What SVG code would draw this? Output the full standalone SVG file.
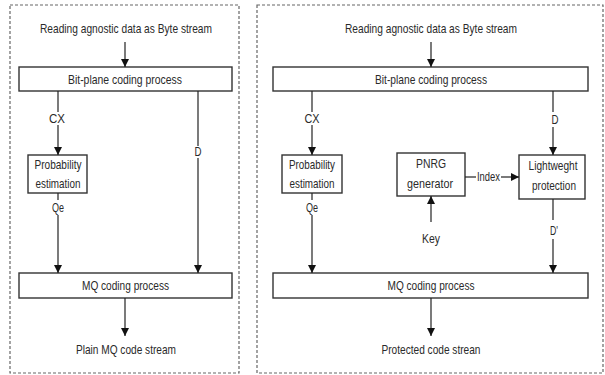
<svg xmlns="http://www.w3.org/2000/svg" width="605" height="375" viewBox="0 0 605 375">
  <style>
    .panel { fill: none; stroke: #666; stroke-width: 1.2; stroke-dasharray: 3 2; }
    .box { fill: #fff; stroke: #333; stroke-width: 1.4; }
    .wire { fill: none; stroke: #222; stroke-width: 1.2; }
    text { font-family: "Liberation Sans", Arial, sans-serif; font-size: 13.5px; fill: #2a2a2a; text-anchor: middle; }
  </style>
  <defs>
    <marker id="arrow" viewBox="0 0 8 8" refX="8" refY="4" markerWidth="8" markerHeight="8" markerUnits="userSpaceOnUse" orient="auto">
      <path d="M0,0 L8,4 L0,8 z" fill="#111"/>
    </marker>
  </defs>

  <rect width="605" height="375" fill="#fff"/>

  <!-- panel frames -->
  <rect class="panel" x="10" y="5" width="229" height="368"/>
  <rect class="panel" x="257" y="5" width="346" height="368"/>

  <!-- plain pipeline -->
  <g id="left-input"><text x="126" y="33" textLength="172" lengthAdjust="spacingAndGlyphs">Reading agnostic data as Byte stream</text></g>
  <g id="left-bitplane">
    <rect class="box" x="19" y="67" width="213" height="24"/>
    <text x="125" y="83.5" textLength="114" lengthAdjust="spacingAndGlyphs">Bit-plane coding process</text>
  </g>
  <g id="left-probability">
    <rect class="box" x="28" y="155" width="59" height="38"/>
    <text x="58" y="169" textLength="47" lengthAdjust="spacingAndGlyphs">Probability</text>
    <text x="58" y="188" textLength="45" lengthAdjust="spacingAndGlyphs">estimation</text>
  </g>
  <g id="left-mq">
    <rect class="box" x="19" y="273" width="213" height="25"/>
    <text x="125.5" y="290" textLength="87" lengthAdjust="spacingAndGlyphs">MQ coding process</text>
  </g>
  <g id="left-output"><text x="126" y="354" textLength="100" lengthAdjust="spacingAndGlyphs">Plain MQ code stream</text></g>

  <!-- protected pipeline -->
  <g id="right-input"><text x="431" y="33" textLength="172" lengthAdjust="spacingAndGlyphs">Reading agnostic data as Byte stream</text></g>
  <g id="right-bitplane">
    <rect class="box" x="273" y="67" width="315" height="24"/>
    <text x="431" y="83.5" textLength="112" lengthAdjust="spacingAndGlyphs">Bit-plane coding process</text>
  </g>
  <g id="right-probability">
    <rect class="box" x="282" y="155" width="60" height="38"/>
    <text x="312" y="169" textLength="46" lengthAdjust="spacingAndGlyphs">Probability</text>
    <text x="312" y="188" textLength="45" lengthAdjust="spacingAndGlyphs">estimation</text>
  </g>
  <g id="right-pnrg">
    <rect class="box" x="397" y="153" width="68" height="43"/>
    <text x="431" y="168" textLength="30" lengthAdjust="spacingAndGlyphs">PNRG</text>
    <text x="430" y="188" textLength="46" lengthAdjust="spacingAndGlyphs">generator</text>
  </g>
  <g id="right-protection">
    <rect class="box" x="519" y="155" width="66" height="44"/>
    <text x="553" y="170" textLength="49" lengthAdjust="spacingAndGlyphs">Lightweght</text>
    <text x="554" y="190" textLength="44" lengthAdjust="spacingAndGlyphs">protection</text>
  </g>
  <g id="right-mq">
    <rect class="box" x="273" y="273" width="315" height="25"/>
    <text x="431" y="290" textLength="87" lengthAdjust="spacingAndGlyphs">MQ coding process</text>
  </g>
  <g id="right-key"><text x="431" y="243" textLength="18" lengthAdjust="spacingAndGlyphs">Key</text></g>
  <g id="right-output"><text x="431" y="354" textLength="99" lengthAdjust="spacingAndGlyphs">Protected code strean</text></g>

  <!-- connectors -->
  <g id="connectors">
    <!-- left -->
    <line class="wire" x1="125" y1="42" x2="125" y2="67" marker-end="url(#arrow)"/>
    <line class="wire" x1="58" y1="91" x2="58" y2="112"/>
    <line class="wire" x1="58" y1="125" x2="58" y2="155" marker-end="url(#arrow)"/>
    <line class="wire" x1="198" y1="91" x2="198" y2="146"/>
    <line class="wire" x1="198" y1="158" x2="198" y2="273" marker-end="url(#arrow)"/>
    <line class="wire" x1="58" y1="193" x2="58" y2="200"/>
    <line class="wire" x1="58" y1="215" x2="58" y2="273" marker-end="url(#arrow)"/>
    <line class="wire" x1="125" y1="298" x2="125" y2="336" marker-end="url(#arrow)"/>
    <!-- right -->
    <line class="wire" x1="431" y1="42" x2="431" y2="67" marker-end="url(#arrow)"/>
    <line class="wire" x1="312" y1="91" x2="312" y2="112"/>
    <line class="wire" x1="312" y1="125" x2="312" y2="155" marker-end="url(#arrow)"/>
    <line class="wire" x1="553" y1="91" x2="553" y2="112"/>
    <line class="wire" x1="553" y1="127" x2="553" y2="155" marker-end="url(#arrow)"/>
    <line class="wire" x1="465" y1="177" x2="476" y2="177"/>
    <line class="wire" x1="501" y1="177" x2="519" y2="177" marker-end="url(#arrow)"/>
    <line class="wire" x1="431" y1="222" x2="431" y2="196" marker-end="url(#arrow)"/>
    <line class="wire" x1="312" y1="193" x2="312" y2="200"/>
    <line class="wire" x1="312" y1="215" x2="312" y2="273" marker-end="url(#arrow)"/>
    <line class="wire" x1="553" y1="199" x2="553" y2="220"/>
    <line class="wire" x1="553" y1="239" x2="553" y2="273" marker-end="url(#arrow)"/>
    <line class="wire" x1="431" y1="298" x2="431" y2="336" marker-end="url(#arrow)"/>
    <!-- connector labels -->
    <text x="57" y="122.5" textLength="16" lengthAdjust="spacingAndGlyphs">CX</text>
    <text x="198" y="156" textLength="7" lengthAdjust="spacingAndGlyphs">D</text>
    <text x="58" y="211.5" textLength="12" lengthAdjust="spacingAndGlyphs">Qe</text>
    <text x="312" y="122.5" textLength="15" lengthAdjust="spacingAndGlyphs">CX</text>
    <text x="555" y="123.5" textLength="7" lengthAdjust="spacingAndGlyphs">D</text>
    <text x="488.5" y="181" textLength="23" lengthAdjust="spacingAndGlyphs">Index</text>
    <text x="312" y="211.5" textLength="12" lengthAdjust="spacingAndGlyphs">Qe</text>
    <text x="554" y="234.5" textLength="8" lengthAdjust="spacingAndGlyphs">D'</text>
  </g>
</svg>
